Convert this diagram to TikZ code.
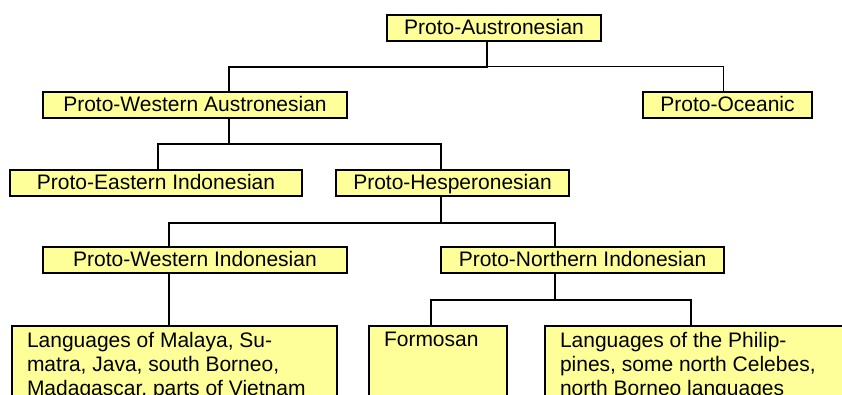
\documentclass[tikz,border=0pt]{standalone}
\usepackage{fontspec}
\setmainfont{Liberation Sans}
\usetikzlibrary{positioning}
\definecolor{boxyellow}{RGB}{255,255,153}
\begin{document}
\begin{tikzpicture}[
    x=1pt, y=-1pt,
    box/.style={draw, fill=boxyellow, line width=2pt, minimum height=26, inner sep=0pt,
                text height=16pt, text depth=3pt, font=\fontsize{21}{24}\selectfont},
    leaf/.style={draw, fill=boxyellow, line width=2pt, anchor=north west,
                 inner xsep=15pt, inner ysep=6pt, font=\fontsize{21}{24}\selectfont},
    link/.style={line width=2pt},
    thinlink/.style={line width=1pt}
]
\useasboundingbox (0,0) rectangle (842,394);
\clip (0,0) rectangle (842,394);

\node[box, minimum width=214] (pa)  at (494,27.5)   {Proto-Austronesian};
\node[box, minimum width=304] (pwa) at (195,105)    {Proto-Western Austronesian};
\node[box, minimum width=169] (po)  at (727.5,105)  {Proto-Oceanic};
\node[box, minimum width=292] (pei) at (156,182.5)  {Proto-Eastern Indonesian};
\node[box, minimum width=233] (ph)  at (452.5,182.5) {Proto-Hesperonesian};
\node[box, minimum width=304] (pwi) at (195,260)    {Proto-Western Indonesian};
\node[box, minimum width=283] (pni) at (582.5,260)  {Proto-Northern Indonesian};
\node[leaf] (lml)  at (11,325)  {\parbox[t][84pt][t]{295pt}{Languages of Malaya, Su-\\matra, Java, south Borneo,\\Madagascar, parts of Vietnam}};
\node[leaf] (form) at (368,325) {\parbox[t][84pt][t]{108pt}{Formosan}};
\node[leaf] (lph)  at (544,325) {\parbox[t][84pt][t]{290pt}{Languages of the Philip-\\pines, some north Celebes,\\north Borneo languages}};

\draw[link] ([xshift=-7pt]pa.south) -- ++(0,25) -| ([xshift=34pt]pwa.north);
\draw[thinlink] ([xshift=-7pt]pa.south) ++(0,25) -| ([xshift=-4.5pt]po.north);
\draw[link] ([xshift=34pt]pwa.south) -- ++(0,25) -| ([xshift=2pt]pei.north);
\draw[link] ([xshift=34pt]pwa.south) ++(0,25) -| ([xshift=-11.5pt]ph.north);
\draw[link] ([xshift=-11.5pt]ph.south) -- ++(0,26) -| ([xshift=-26pt]pwi.north);
\draw[link] ([xshift=-11.5pt]ph.south) ++(0,26) -| ([xshift=-28pt]pni.north);
\draw[link] ([xshift=-26pt]pwi.south) -- ([xshift=-26pt]pwi.south |- lml.north);
\draw[link] ([xshift=-28pt]pni.south) -- ++(0,26) -| ([xshift=-7pt]form.north);
\draw[link] ([xshift=-28pt]pni.south) ++(0,26) -| ([xshift=-14pt]lph.north);
\end{tikzpicture}
\end{document}
